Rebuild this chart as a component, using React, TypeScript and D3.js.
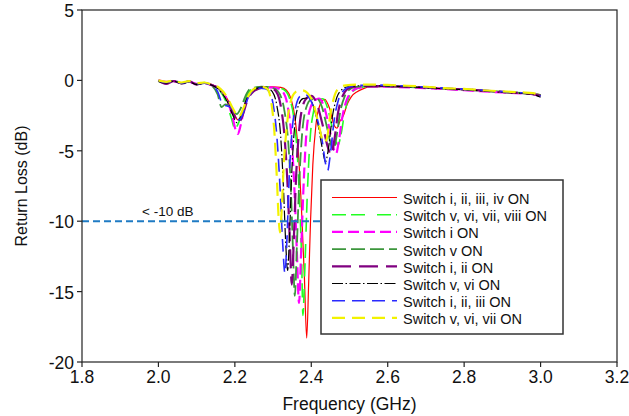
import React from "react";
import * as d3 from "d3";

type P = [number, number];

// Frequency (GHz), Return loss (dB)
const sw1234: P[] = [[2.00,0.0],[2.02,-0.15],[2.04,-0.05],[2.06,-0.2],[2.08,-0.1],[2.10,-0.25],[2.12,-0.2],[2.14,-0.3],[2.16,-0.6],[2.18,-1.3],[2.196,-2.2],[2.208,-2.8],[2.218,-2.4],[2.23,-1.4],[2.244,-0.75],[2.26,-0.5],[2.28,-0.45],[2.30,-0.45],[2.32,-0.5],[2.335,-0.7],[2.347,-1.3],[2.358,-2.8],[2.367,-5.5],[2.375,-9.5],[2.382,-14.0],[2.388,-18.3],[2.393,-14.5],[2.398,-10.0],[2.404,-6.0],[2.412,-3.2],[2.422,-1.8],[2.435,-1.35],[2.448,-2.0],[2.46,-3.2],[2.467,-3.4],[2.475,-2.9],[2.484,-2.5],[2.494,-1.7],[2.505,-1.15],[2.52,-0.8],[2.535,-0.6],[2.555,-0.45],[2.60,-0.42],[2.65,-0.45],[2.70,-0.5],[2.75,-0.58],[2.80,-0.64],[2.85,-0.72],[2.90,-0.8],[2.95,-0.88],[2.98,-0.93],[3.00,-1.0]];
const sw5678: P[] = [[2.00,-0.05],[2.02,-0.15],[2.04,0.0],[2.06,-0.2],[2.08,-0.05],[2.10,-0.25],[2.12,-0.15],[2.14,-0.35],[2.16,-0.7],[2.178,-1.6],[2.19,-2.6],[2.2,-3.4],[2.21,-3.0],[2.222,-1.8],[2.235,-0.9],[2.25,-0.55],[2.27,-0.45],[2.29,-0.45],[2.31,-0.5],[2.328,-0.65],[2.342,-1.2],[2.355,-2.8],[2.364,-5.5],[2.37,-9.0],[2.375,-13.0],[2.378,-16.7],[2.383,-13.5],[2.389,-8.5],[2.396,-4.5],[2.406,-2.2],[2.418,-1.4],[2.43,-1.3],[2.442,-1.9],[2.455,-3.4],[2.465,-4.4],[2.47,-4.6],[2.478,-3.8],[2.488,-2.2],[2.50,-1.1],[2.515,-0.65],[2.53,-0.5],[2.56,-0.42],[2.60,-0.42],[2.65,-0.46],[2.70,-0.5],[2.75,-0.58],[2.80,-0.65],[2.85,-0.72],[2.90,-0.8],[2.95,-0.88],[2.98,-0.93],[3.00,-1.05]];
const sw1: P[] = [[2.00,0.0],[2.02,-0.1],[2.04,-0.05],[2.06,-0.2],[2.08,-0.1],[2.10,-0.25],[2.12,-0.2],[2.14,-0.35],[2.16,-0.6],[2.18,-1.4],[2.193,-2.5],[2.203,-3.6],[2.208,-3.8],[2.215,-3.2],[2.225,-1.9],[2.238,-1.0],[2.252,-0.6],[2.27,-0.5],[2.29,-0.5],[2.31,-0.55],[2.325,-0.8],[2.338,-1.8],[2.348,-4.0],[2.356,-7.8],[2.362,-12.0],[2.368,-15.8],[2.373,-12.5],[2.379,-8.0],[2.386,-4.2],[2.396,-2.1],[2.41,-1.4],[2.42,-1.3],[2.435,-2.0],[2.448,-3.5],[2.458,-4.8],[2.465,-5.2],[2.472,-4.3],[2.482,-2.5],[2.494,-1.3],[2.506,-0.8],[2.52,-0.55],[2.545,-0.45],[2.58,-0.45],[2.62,-0.47],[2.66,-0.5],[2.70,-0.55],[2.75,-0.62],[2.80,-0.7],[2.85,-0.78],[2.90,-0.86],[2.95,-0.93],[2.98,-0.98],[3.00,-1.1]];
const sw5: P[] = [[2.00,-0.05],[2.02,-0.2],[2.04,0.0],[2.06,-0.2],[2.08,-0.1],[2.10,-0.25],[2.12,-0.2],[2.14,-0.4],[2.155,-1.0],[2.165,-1.9],[2.175,-1.7],[2.19,-1.9],[2.205,-2.4],[2.215,-2.0],[2.228,-1.1],[2.24,-0.6],[2.255,-0.5],[2.27,-0.45],[2.29,-0.5],[2.305,-0.6],[2.318,-1.0],[2.33,-2.2],[2.34,-4.5],[2.347,-8.0],[2.352,-12.0],[2.357,-15.3],[2.362,-12.0],[2.368,-7.5],[2.376,-3.8],[2.386,-2.0],[2.40,-1.35],[2.415,-1.3],[2.428,-1.9],[2.44,-3.2],[2.452,-4.6],[2.458,-4.9],[2.466,-4.0],[2.476,-2.2],[2.488,-1.1],[2.50,-0.65],[2.515,-0.48],[2.54,-0.42],[2.58,-0.42],[2.62,-0.44],[2.66,-0.48],[2.70,-0.52],[2.75,-0.6],[2.80,-0.66],[2.85,-0.74],[2.90,-0.82],[2.95,-0.9],[2.98,-0.95],[3.00,-1.05]];
const sw12: P[] = [[2.00,0.0],[2.02,-0.25],[2.04,-0.05],[2.06,-0.25],[2.08,-0.05],[2.10,-0.3],[2.12,-0.15],[2.14,-0.35],[2.16,-0.6],[2.18,-1.3],[2.197,-2.4],[2.21,-3.0],[2.22,-2.5],[2.233,-1.4],[2.248,-0.8],[2.262,-0.6],[2.28,-0.5],[2.295,-0.55],[2.308,-0.8],[2.32,-1.8],[2.33,-4.0],[2.338,-7.5],[2.344,-11.5],[2.349,-14.5],[2.354,-11.5],[2.36,-7.0],[2.368,-3.6],[2.378,-1.8],[2.39,-1.2],[2.40,-1.1],[2.415,-1.7],[2.43,-3.2],[2.444,-4.8],[2.452,-5.3],[2.46,-4.3],[2.47,-2.3],[2.482,-1.1],[2.495,-0.6],[2.51,-0.45],[2.54,-0.4],[2.58,-0.4],[2.62,-0.42],[2.66,-0.46],[2.70,-0.5],[2.75,-0.58],[2.80,-0.64],[2.85,-0.72],[2.90,-0.82],[2.95,-0.9],[2.98,-0.97],[3.00,-1.1]];
const sw56: P[] = [[2.00,-0.05],[2.02,-0.2],[2.04,-0.05],[2.06,-0.25],[2.08,-0.1],[2.10,-0.3],[2.12,-0.2],[2.14,-0.35],[2.16,-0.7],[2.18,-1.5],[2.195,-2.5],[2.205,-3.0],[2.215,-2.6],[2.228,-1.5],[2.24,-0.9],[2.255,-0.6],[2.27,-0.5],[2.285,-0.55],[2.298,-0.8],[2.31,-1.8],[2.32,-4.0],[2.327,-7.5],[2.333,-11.5],[2.338,-13.5],[2.343,-11.0],[2.349,-6.5],[2.356,-3.4],[2.366,-1.8],[2.378,-1.3],[2.392,-1.25],[2.405,-1.8],[2.418,-3.2],[2.43,-5.0],[2.437,-5.8],[2.444,-5.0],[2.455,-2.6],[2.467,-1.2],[2.48,-0.65],[2.495,-0.45],[2.52,-0.38],[2.56,-0.38],[2.60,-0.4],[2.65,-0.45],[2.70,-0.52],[2.75,-0.6],[2.80,-0.66],[2.85,-0.75],[2.90,-0.85],[2.95,-0.92],[2.98,-1.0],[3.00,-1.2]];
const sw123: P[] = [[2.00,0.0],[2.02,-0.15],[2.04,-0.05],[2.06,-0.2],[2.08,-0.1],[2.10,-0.25],[2.12,-0.2],[2.14,-0.35],[2.155,-0.8],[2.168,-1.7],[2.178,-1.8],[2.19,-1.9],[2.205,-2.6],[2.212,-2.8],[2.222,-2.3],[2.235,-1.2],[2.25,-0.7],[2.265,-0.55],[2.28,-0.6],[2.292,-0.9],[2.302,-2.0],[2.31,-4.0],[2.318,-7.5],[2.325,-11.5],[2.331,-13.7],[2.336,-11.5],[2.342,-7.0],[2.35,-3.5],[2.36,-1.8],[2.372,-1.1],[2.384,-1.0],[2.398,-1.4],[2.412,-2.4],[2.428,-4.2],[2.438,-6.0],[2.443,-6.4],[2.45,-5.2],[2.46,-2.8],[2.472,-1.3],[2.485,-0.7],[2.50,-0.45],[2.53,-0.35],[2.56,-0.33],[2.60,-0.35],[2.65,-0.4],[2.70,-0.48],[2.75,-0.55],[2.80,-0.62],[2.85,-0.7],[2.90,-0.8],[2.95,-0.88],[2.98,-0.95],[3.00,-1.1]];
const sw567: P[] = [[2.00,0.0],[2.02,-0.1],[2.04,0.0],[2.06,-0.15],[2.08,-0.05],[2.10,-0.2],[2.12,-0.15],[2.14,-0.3],[2.16,-0.55],[2.18,-1.2],[2.195,-2.0],[2.21,-2.6],[2.222,-2.0],[2.235,-1.1],[2.25,-0.6],[2.27,-0.45],[2.285,-0.6],[2.295,-1.5],[2.303,-3.5],[2.31,-7.0],[2.315,-10.0],[2.318,-10.8],[2.322,-9.5],[2.328,-6.0],[2.335,-3.5],[2.345,-1.6],[2.36,-0.8],[2.375,-0.7],[2.39,-0.9],[2.405,-1.6],[2.42,-3.2],[2.432,-4.4],[2.44,-4.2],[2.45,-2.4],[2.462,-1.0],[2.475,-0.5],[2.49,-0.35],[2.52,-0.3],[2.56,-0.3],[2.60,-0.32],[2.65,-0.38],[2.70,-0.45],[2.75,-0.55],[2.80,-0.6],[2.85,-0.7],[2.90,-0.78],[2.95,-0.85],[2.98,-0.9],[3.00,-1.05]];

const seriesNames = [
  "Switch i, ii, iii, iv ON",
  "Switch v, vi, vii, viii ON",
  "Switch i ON",
  "Switch v ON",
  "Switch i, ii ON",
  "Switch v, vi ON",
  "Switch i, ii, iii ON",
  "Switch v, vi, vii ON",
];
const seriesData: P[][] = [sw1234, sw5678, sw1, sw5, sw12, sw56, sw123, sw567];

const xTicks = [1.8, 2.0, 2.2, 2.4, 2.6, 2.8, 3.0, 3.2];
const yTicks = [5, 0, -5, -10, -15, -20];
const thresholdDb = -10;

const styles = [
  { color: "#ff0000", width: 1.2, dash: "" },
  { color: "#22ff22", width: 1.6, dash: "14,5,14,12" },
  { color: "#ff00ff", width: 2.2, dash: "11,5" },
  { color: "#3c963c", width: 1.8, dash: "14,5" },
  { color: "#800080", width: 2.2, dash: "19,8" },
  { color: "#000000", width: 1.2, dash: "11,2.5,1.5,2.5" },
  { color: "#2a2aff", width: 1.6, dash: "13,7" },
  { color: "#f2f200", width: 2.2, dash: "13,7" },
];

const W = 629, H = 416;
const L = 82, T = 10, R = 617, B = 362;
const FONT = "'Liberation Sans', Arial, Helvetica, sans-serif";

export default function App() {
  const x = d3.scaleLinear().domain([1.8, 3.2]).range([L, R]);
  const y = d3.scaleLinear().domain([-20, 5]).range([B, T]);
  const line = d3
    .line<P>()
    .x((d) => x(d[0]))
    .y((d) => y(d[1]))
    .curve(d3.curveMonotoneX);

  const legX = 321, legY = 180, legW = 242, legH = 154;

  return (
    <svg
      width={W}
      height={H}
      style={{ position: "absolute", left: 0, top: 0, background: "#fff" }}
      fontFamily={FONT}
    >
      <rect x={0} y={0} width={W} height={H} fill="#fff" />
      {/* curves */}
      {seriesData.map((s, i) => (
        <path
          key={i}
          d={line(s) || ""}
          fill="none"
          stroke={styles[i].color}
          strokeWidth={styles[i].width}
          strokeDasharray={styles[i].dash || undefined}
        />
      ))}
      {/* threshold line */}
      <line
        x1={L}
        x2={legX}
        y1={y(thresholdDb)}
        y2={y(thresholdDb)}
        stroke="#1f7bc4"
        strokeWidth={2}
        strokeDasharray="7,4"
      />
      <text x={142} y={y(thresholdDb) - 5} fontSize={13.5} fill="#111">
        {"< -10 dB"}
      </text>
      {/* frame */}
      <rect x={L} y={T} width={R - L} height={B - T} fill="none" stroke="#222" strokeWidth={1.2} />
      {xTicks.map((t) => (
        <g key={"x" + t}>
          <line x1={x(t)} x2={x(t)} y1={B} y2={B + 5} stroke="#222" strokeWidth={1.2} />
          <text x={x(t)} y={B + 15} fontSize={17.5} textAnchor="middle" dominantBaseline="central" fill="#111">
            {t.toFixed(1)}
          </text>
        </g>
      ))}
      {yTicks.map((t) => (
        <g key={"y" + t}>
          <line x1={L - 5} x2={L} y1={y(t)} y2={y(t)} stroke="#222" strokeWidth={1.2} />
          <text x={L - 8} y={y(t) + 1} fontSize={17.5} textAnchor="end" dominantBaseline="central" fill="#111">
            {t}
          </text>
        </g>
      ))}
      <text x={(L + R) / 2} y={404} fontSize={17.5} textAnchor="middle" dominantBaseline="central" fill="#111">
        Frequency (GHz)
      </text>
      <text
        transform={`translate(21,${(T + B) / 2}) rotate(-90)`}
        fontSize={16}
        textAnchor="middle"
        dominantBaseline="central"
        fill="#111"
      >
        Return Loss (dB)
      </text>
      {/* legend */}
      <rect x={legX} y={legY} width={legW} height={legH} fill="#fff" stroke="#333" strokeWidth={1.5} />
      {seriesNames.map((name, i) => {
        const ly = legY + 17.5 + i * 17.2;
        return (
          <g key={name}>
            <line
              x1={332}
              x2={397}
              y1={ly}
              y2={ly}
              stroke={styles[i].color}
              strokeWidth={styles[i].width}
              strokeDasharray={styles[i].dash || undefined}
            />
            <text x={403} y={ly + 1.5} fontSize={14.5} dominantBaseline="central" fill="#111">
              {name}
            </text>
          </g>
        );
      })}
    </svg>
  );
}
